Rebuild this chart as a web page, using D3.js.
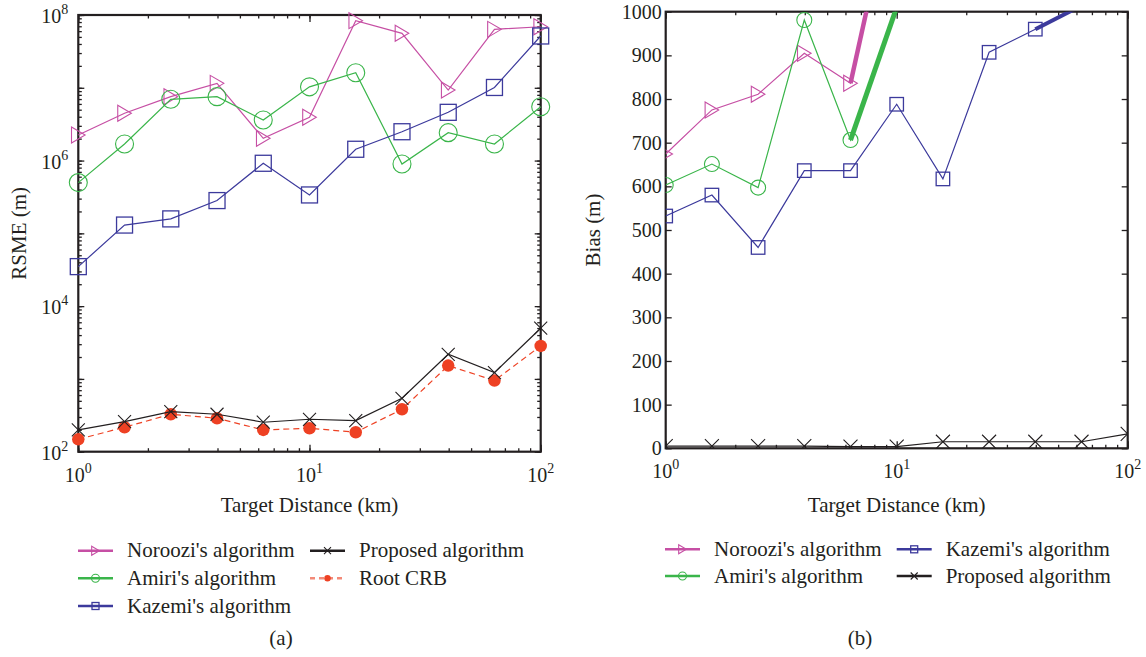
<!DOCTYPE html>
<html>
<head>
<meta charset="utf-8">
<script src="https://cdn.jsdelivr.net/npm/d3@7"></script>
<style>
  html, body { margin: 0; padding: 0; background: #fff; }
  svg text { font-family: 'Liberation Serif', 'DejaVu Serif', serif; fill: #231f20; }
</style>
</head>
<body>
<svg id="chart" width="1146" height="657"></svg>
<script>
// ---------------- DATA ----------------
const distances = [1, 1.585, 2.512, 3.981, 6.310, 10, 15.85, 25.12, 39.81, 63.10, 100];

// (a) RMSE (m)
const rmseNoroozi  = [2.24e6, 4.46e6, 7.55e6, 1.15e7, 2.02e6, 3.94e6, 8.36e7, 5.6e7, 9.3e6, 6.35e7, 6.9e7];
const rmseAmiri    = [4.98e5, 1.69e6, 6.95e6, 7.55e6, 3.61e6, 1.03e7, 1.61e7, 8.97e5, 2.42e6, 1.69e6, 5.5e6];
const rmseKazemi   = [3.49e4, 1.30e5, 1.58e5, 2.82e5, 9.18e5, 3.37e5, 1.43e6, 2.49e6, 4.6e6, 1.01e7, 5.15e7];
const rmseProposed = [199, 259, 356, 327, 254, 279, 268, 542, 2180, 1222, 4970];
const rootCRB      = [148, 217, 327, 288, 199, 210, 185, 383, 1524, 948, 2840];

// (b) Bias (m) — null: value above the plotted range, not readable
const biasNoroozi  = [674, 775, 811, 905, 836, 1315, null, null, null, null, null];
const biasAmiri    = [603, 651, 597, 981, 706, 1010, null, null, null, null, null];
const biasKazemi   = [532, 580, 460, 636, 636, 788, 617, 907, 960, 1014, null];
const biasProposed = [5, 5, 5, 5, 4, 4, 15, 15, 15, 15, 33];

const distanceTickExps = [0, 1, 2];
const rmseTickExps = [2, 4, 6, 8];
const biasTicks = [0, 100, 200, 300, 400, 500, 600, 700, 800, 900, 1000];

const labelsA = ["Noroozi's algorithm", "Amiri's algorithm", "Kazemi's algorithm", "Proposed algorithm", "Root CRB"];
const labelsB = ["Noroozi's algorithm", "Amiri's algorithm", "Kazemi's algorithm", "Proposed algorithm"];

// ---------------- STYLE ----------------
const C = { noroozi: "#c64fa4", amiri: "#3ab54a", kazemi: "#3c3a9c", proposed: "#231f20", crb: "#ee4123", crbLight: "#f38a78" };
const svg = d3.select("#chart");

// marker drawing
function marker(g, type, cx, cy, s, color) {
  if (type === "tri") {
    const w = s * 0.85, h = s;
    g.append("path").attr("d", `M${cx - w/2},${cy - h/2}L${cx + w/2},${cy}L${cx - w/2},${cy + h/2}Z`)
      .attr("fill", "none").attr("stroke", color).attr("stroke-width", 1.1);
  } else if (type === "circ") {
    g.append("circle").attr("cx", cx).attr("cy", cy).attr("r", s / 2)
      .attr("fill", "none").attr("stroke", color).attr("stroke-width", 1.1);
  } else if (type === "sq") {
    g.append("rect").attr("x", cx - s/2).attr("y", cy - s/2).attr("width", s).attr("height", s)
      .attr("fill", "none").attr("stroke", color).attr("stroke-width", 1.3);
  } else if (type === "x") {
    const a = s / 2;
    g.append("path").attr("d", `M${cx - a},${cy - a}L${cx + a},${cy + a}M${cx - a},${cy + a}L${cx + a},${cy - a}`)
      .attr("fill", "none").attr("stroke", color).attr("stroke-width", 1.1);
  } else if (type === "dot") {
    g.append("circle").attr("cx", cx).attr("cy", cy).attr("r", s / 2).attr("fill", color);
  }
}

function logMinors(lo, hi) {
  const out = [];
  for (let e = lo; e < hi; e++) for (let k = 1; k < 10; k++) out.push(k * Math.pow(10, e));
  out.push(Math.pow(10, hi));
  return out;
}

function drawFrame(g, x, y, X0, X1, Y0, Y1, yMajor, yMinor) {
  const xMinor = logMinors(0, 2);
  const xMajor = distanceTickExps.map(e => Math.pow(10, e));
  const mk = (axisFn, scale, vals, size, tr) => {
    const a = g.append("g").attr("transform", tr)
      .call(axisFn(scale).tickValues(vals).tickSize(-size).tickFormat(""));
    a.select(".domain").remove();
    a.selectAll("line").attr("stroke", "#231f20").attr("stroke-width", 1.3);
  };
  mk(d3.axisBottom, x, xMinor, 3.5, `translate(0,${Y1})`);
  mk(d3.axisBottom, x, xMajor, 7, `translate(0,${Y1})`);
  mk(d3.axisTop, x, xMinor, 3.5, `translate(0,${Y0})`);
  mk(d3.axisTop, x, xMajor, 7, `translate(0,${Y0})`);
  if (yMinor) {
    mk(d3.axisLeft, y, yMinor, 3.5, `translate(${X0},0)`);
    mk(d3.axisRight, y, yMinor, 3.5, `translate(${X1},0)`);
  }
  mk(d3.axisLeft, y, yMajor, 6, `translate(${X0},0)`);
  mk(d3.axisRight, y, yMajor, 6, `translate(${X1},0)`);
  g.append("rect").attr("x", X0).attr("y", Y0).attr("width", X1 - X0).attr("height", Y1 - Y0)
    .attr("fill", "none").attr("stroke", "#231f20").attr("stroke-width", 2.2);
}

function powLabel(g, px, py, exp, anchor) {
  const t = g.append("text").attr("x", px).attr("y", py).attr("text-anchor", anchor).attr("font-size", 20);
  t.append("tspan").text("10");
  t.append("tspan").attr("font-size", 14).attr("dy", -9).text(exp);
}

// ---------------- PANEL (a) ----------------
(function () {
  const X0 = 78.3, X1 = 540.7, Y0 = 15, Y1 = 451.7;
  const x = d3.scaleLog().domain([1, 100]).range([X0, X1]);
  const y = d3.scaleLog().domain([1e2, 1e8]).range([Y1, Y0]);
  const g = svg.append("g");
  const yMajor = [2,3,4,5,6,7,8].map(e => Math.pow(10, e));
  drawFrame(g, x, y, X0, X1, Y0, Y1, yMajor, logMinors(2, 8));

  const line = d3.line().x((d, i) => x(distances[i])).y(d => y(d));
  const series = [
    { v: rmseNoroozi, c: C.noroozi, m: "tri", s: 16 },
    { v: rmseAmiri, c: C.amiri, m: "circ", s: 18 },
    { v: rmseKazemi, c: C.kazemi, m: "sq", s: 16 },
    { v: rootCRB, c: C.crb, m: "dot", s: 12.5, dash: "6,4" },
    { v: rmseProposed, c: C.proposed, m: "x", s: 13 },
  ];
  series.forEach(S => {
    g.append("path").attr("d", line(S.v)).attr("fill", "none").attr("stroke", S.c)
      .attr("stroke-width", 1.2).attr("stroke-dasharray", S.dash || null);
    S.v.forEach((d, i) => marker(g, S.m, x(distances[i]), y(d), S.s, S.c));
  });

  rmseTickExps.forEach(e => powLabel(g, X0 - 10, y(Math.pow(10, e)) + 8, e, "end"));
  distanceTickExps.forEach(e => powLabel(g, x(Math.pow(10, e)), 482, e, "middle"));

  g.append("text").attr("x", (X0 + X1) / 2).attr("y", 512).attr("text-anchor", "middle")
    .attr("font-size", 21).text("Target Distance (km)");
  g.append("text").attr("transform", `translate(26,${(Y0 + Y1) / 2}) rotate(-90)`)
    .attr("text-anchor", "middle").attr("font-size", 21).text("RSME (m)");

  // legend
  const L = [
    { x: 78, y: 550.7, c: C.noroozi, m: "tri", s: 9, t: labelsA[0] },
    { x: 78, y: 578.3, c: C.amiri, m: "circ", s: 8, t: labelsA[1] },
    { x: 78, y: 606, c: C.kazemi, m: "sq", s: 7, t: labelsA[2] },
    { x: 310, y: 550.7, c: C.proposed, m: "x", s: 7, t: labelsA[3] },
    { x: 310, y: 578.3, c: C.crbLight, m: "dot", s: 6.5, t: labelsA[4], dash: "5,4", mc: C.crb },
  ];
  L.forEach(d => {
    g.append("line").attr("x1", d.x).attr("x2", d.x + 35).attr("y1", d.y).attr("y2", d.y)
      .attr("stroke", d.c).attr("stroke-width", 2.4).attr("stroke-dasharray", d.dash || null);
    marker(g, d.m, d.x + 17.5, d.y, d.s, d.mc || d.c);
    g.append("text").attr("x", d.x + 49).attr("y", d.y + 6.5).attr("font-size", 21).text(d.t);
  });
  g.append("text").attr("x", 281).attr("y", 645).attr("text-anchor", "middle").attr("font-size", 21).text("(a)");
})();

// ---------------- PANEL (b) ----------------
(function () {
  const X0 = 665.7, X1 = 1127.7, Y0 = 11.7, Y1 = 448.3;
  const x = d3.scaleLog().domain([1, 100]).range([X0, X1]);
  const y = d3.scaleLinear().domain([0, 1000]).range([Y1, Y0]);
  const g = svg.append("g");
  svg.append("defs").append("clipPath").attr("id", "clipB")
    .append("rect").attr("x", X0).attr("y", Y0).attr("width", X1 - X0).attr("height", Y1 - Y0);
  drawFrame(g, x, y, X0, X1, Y0, Y1, biasTicks, null);

  const pts = v => v.map((d, i) => ({ xv: distances[i], yv: d }));
  const line = d3.line().defined(d => d.yv !== null).x(d => x(d.xv)).y(d => y(d.yv));
  const series = [
    { v: biasNoroozi, c: C.noroozi, m: "tri", s: 16, w: 4.5 },
    { v: biasAmiri, c: C.amiri, m: "circ", s: 15, w: 5 },
    { v: biasKazemi, c: C.kazemi, m: "sq", s: 13.5, w: 4 },
    { v: biasProposed, c: C.proposed, m: "x", s: 14, w: 1.2 },
  ];
  const plot = g.append("g").attr("clip-path", "url(#clipB)");
  series.forEach(S => {
    const P = pts(S.v);
    plot.append("path").attr("d", line(P)).attr("fill", "none").attr("stroke", S.c).attr("stroke-width", 1.2);
    // segments leaving the top of the axes
    for (let i = 0; i < P.length - 1; i++) {
      if (P[i].yv !== null && P[i + 1].yv !== null && P[i].yv <= 1000 && P[i + 1].yv > 1000) {
        plot.append("path").attr("d", line([P[i], P[i + 1]])).attr("fill", "none")
          .attr("stroke", S.c).attr("stroke-width", S.w);
      }
    }
    P.forEach(d => { if (d.yv !== null && d.yv <= 1000) marker(plot, S.m, x(d.xv), y(d.yv), S.s, S.c); });
  });

  biasTicks.forEach(t => g.append("text").attr("x", X0 - 4).attr("y", y(t) + 7)
    .attr("text-anchor", "end").attr("font-size", 20).text(t));
  distanceTickExps.forEach(e => powLabel(g, x(Math.pow(10, e)), 478, e, "middle"));

  g.append("text").attr("x", (X0 + X1) / 2).attr("y", 512).attr("text-anchor", "middle")
    .attr("font-size", 21).text("Target Distance (km)");
  g.append("text").attr("transform", `translate(600,${(Y0 + Y1) / 2}) rotate(-90)`)
    .attr("text-anchor", "middle").attr("font-size", 21).text("Bias (m)");

  const L = [
    { x: 665, y: 549.3, c: C.noroozi, m: "tri", s: 9, t: labelsB[0] },
    { x: 665, y: 576, c: C.amiri, m: "circ", s: 8, t: labelsB[1] },
    { x: 896.7, y: 549.3, c: C.kazemi, m: "sq", s: 7, t: labelsB[2] },
    { x: 896.7, y: 576, c: C.proposed, m: "x", s: 7, t: labelsB[3] },
  ];
  L.forEach(d => {
    g.append("line").attr("x1", d.x).attr("x2", d.x + 35).attr("y1", d.y).attr("y2", d.y)
      .attr("stroke", d.c).attr("stroke-width", 2.4);
    marker(g, d.m, d.x + 17.5, d.y, d.s, d.c);
    g.append("text").attr("x", d.x + 49).attr("y", d.y + 6.5).attr("font-size", 21).text(d.t);
  });
  g.append("text").attr("x", 860).attr("y", 645).attr("text-anchor", "middle").attr("font-size", 21).text("(b)");
})();
</script>
</body>
</html>
